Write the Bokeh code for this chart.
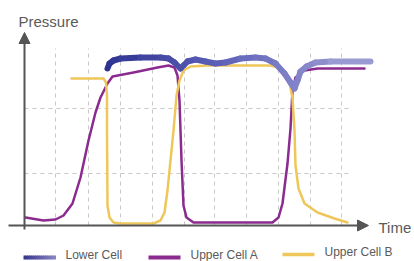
from bokeh.plotting import figure
from bokeh.models import Range1d, Arrow, NormalHead, Label
from bokeh.embed import file_html
from bokeh.resources import INLINE

# ---- data (arbitrary units: time, pressure) ----
lower_t = [83, 85, 89, 96, 116, 136, 144, 150, 156, 159, 163, 171, 181, 191, 201, 216,
           231, 241, 251, 260, 266, 270, 273, 276, 282, 291, 306, 346]
lower_p = [157, 162, 165, 167, 168, 168, 167, 163, 157, 160, 164, 166, 164, 162, 163, 167,
           168, 167, 162, 152, 143, 137, 145, 154, 159, 163, 164, 164]

upper_a_t = [1, 19, 31, 39, 48, 56, 64, 71, 76, 83, 88, 109, 133, 144, 150, 153, 155, 157,
             159, 162, 169, 248, 254, 258, 263, 266, 268, 271, 280, 293, 340]
upper_a_p = [8, 5, 6, 10, 22, 48, 85, 113, 128, 142, 149, 153, 158, 160, 158, 150, 125, 65,
             20, 8, 3, 3, 8, 22, 62, 97, 135, 148, 155, 157, 157]

upper_b_t = [47, 79, 81.5, 82.5, 82.5, 83, 85, 89, 96, 129, 136, 140, 143, 146, 149, 152,
             155, 159, 166, 183, 246, 254, 261, 265, 268, 270, 271, 274, 280, 293, 310, 323]
upper_b_p = [147, 147, 143, 130, 95, 20, 8, 3, 2, 2, 5, 13, 35, 65, 95, 130,
             145, 155, 159, 160, 160, 158, 152, 143, 127, 95, 60, 37, 22, 13, 7, 3]

grid_t = [31, 64, 96, 128, 160, 190, 222, 254, 286, 317]
grid_p = [52, 117]

series_names = ["Lower Cell", "Upper Cell A", "Upper Cell B"]

# ---- styling ----
PURPLE = "#8b2b8f"
YELLOW = "#eec65a"
AXIS = "#555555"
TEXT = "#5a5a5a"
FONT = "Liberation Sans"

p = figure(width=414, height=261, output_backend="svg", toolbar_location=None,
           x_range=Range1d(-24, 390), y_range=Range1d(-36, 225),
           min_border=0, outline_line_color=None)
p.xaxis.visible = False
p.yaxis.visible = False
p.xgrid.visible = False
p.ygrid.visible = False
p.background_fill_color = "white"

# dashed grid
p.segment(x0=grid_t, y0=[0] * len(grid_t), x1=grid_t, y1=[177] * len(grid_t),
          line_color="#c8c8c8", line_width=1, line_dash="4 4")
p.segment(x0=[0] * len(grid_p), y0=grid_p, x1=[326] * len(grid_p), y1=grid_p,
          line_color="#c8c8c8", line_width=1, line_dash="4 4")

# axes arrows
p.add_layout(Arrow(end=NormalHead(size=11, fill_color=AXIS, line_color=AXIS),
                   x_start=0, y_start=-4, x_end=0, y_end=193,
                   line_color=AXIS, line_width=2))
p.add_layout(Arrow(end=NormalHead(size=11, fill_color=AXIS, line_color=AXIS),
                   x_start=-16, y_start=0, x_end=344, y_end=0,
                   line_color=AXIS, line_width=2))

p.add_layout(Label(x=-6, y=204, text="Pressure", text_font=FONT, text_font_size="15px",
                   text_color=TEXT, text_baseline="middle"))
p.add_layout(Label(x=354, y=-2, text="Time", text_font=FONT, text_font_size="15px",
                   text_color=TEXT, text_baseline="middle"))

# series lines
p.line(upper_a_t, upper_a_p, line_color=PURPLE, line_width=2.5, line_join="round", line_cap="round")
p.line(upper_b_t, upper_b_p, line_color=YELLOW, line_width=2.5, line_join="round", line_cap="round")


def lerp_color(c1, c2, f):
    a = [int(c1[i:i + 2], 16) for i in (1, 3, 5)]
    b = [int(c2[i:i + 2], 16) for i in (1, 3, 5)]
    return "#%02x%02x%02x" % tuple(int(round(a[k] + (b[k] - a[k]) * f)) for k in range(3))


def gradient_color(f):
    stops = [(0.0, "#2e3392"), (0.45, "#5f62b8"), (1.0, "#a5a4d8")]
    for (f0, c0), (f1, c1) in zip(stops[:-1], stops[1:]):
        if f <= f1:
            return lerp_color(c0, c1, (f - f0) / (f1 - f0))
    return stops[-1][1]


t0, t1 = lower_t[0], lower_t[-1]
xs, ys, cs = [], [], []
for i in range(len(lower_t) - 1):
    xs.append([lower_t[i], lower_t[i + 1]])
    ys.append([lower_p[i], lower_p[i + 1]])
    mid = (lower_t[i] + lower_t[i + 1]) / 2
    cs.append(gradient_color((mid - t0) / (t1 - t0)))
p.multi_line(xs, ys, line_color=cs, line_width=6, line_cap="round", line_join="round")

# legend (manual)
leg_y = [-32, -32, -29]
leg_x0 = [-1, 124, 258]
leg_len = 32
n = 16
for k in range(n):
    a = leg_x0[0] + leg_len * k / n
    b = leg_x0[0] + leg_len * (k + 1) / n
    p.line([a, b + 0.5], [leg_y[0], leg_y[0]], line_width=4,
           line_color=lerp_color("#33358f", "#8c84c4", (k + 0.5) / n))
p.line([leg_x0[1], leg_x0[1] + leg_len], [leg_y[1], leg_y[1]], line_width=4, line_color=PURPLE)
p.line([leg_x0[2], leg_x0[2] + leg_len], [leg_y[2], leg_y[2]], line_width=3.5, line_color=YELLOW)
for x0, y0, name in zip(leg_x0, leg_y, series_names):
    p.add_layout(Label(x=x0 + leg_len + 10, y=y0 + 3, text=name, text_font=FONT,
                       text_font_size="12px", text_color=TEXT, text_baseline="middle"))

open("out.html", "w").write(file_html(p, INLINE))
